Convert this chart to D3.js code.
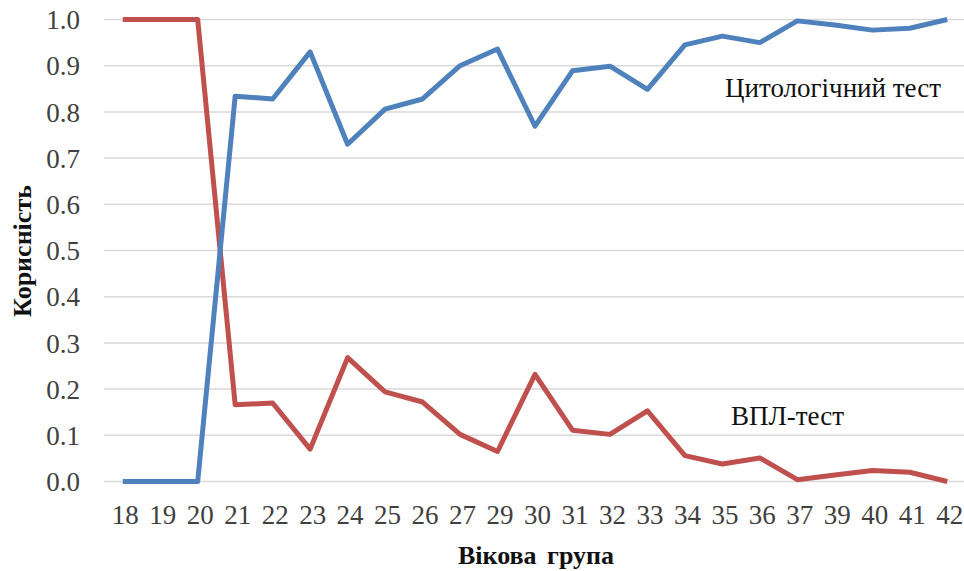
<!DOCTYPE html>
<html><head><meta charset="utf-8">
<script src="https://cdn.jsdelivr.net/npm/d3@7"></script>
</head><body>
<svg id="c" width="964" height="571"></svg>
<script>
const ages = ["18","19","20","21","22","23","24","25","26","27","29","30","31","32","33","34","35","36","37","39","40","41","42"];
const cytology = [0,0,0,0.834,0.828,0.930,0.730,0.806,0.828,0.900,0.936,0.769,0.889,0.899,0.849,0.945,0.964,0.950,0.997,0.988,0.977,0.981,1.0];
const hpv = [1,1,1,0.166,0.170,0.070,0.268,0.194,0.172,0.102,0.065,0.232,0.111,0.102,0.153,0.056,0.038,0.051,0.004,0.014,0.024,0.020,0.0];
const yTicks = [0,0.1,0.2,0.3,0.4,0.5,0.6,0.7,0.8,0.9,1.0];

d3.select("body").style("margin", "0").style("background", "#fff");
const svg = d3.select("#c").style("display", "block").attr("font-family", "Times New Roman");
const mLeft = 104, mRight = 966, mTop = 19.5, mBottom = 481.5;
const x = d3.scalePoint().domain(ages).range([mLeft, mRight]).padding(0.5);
const y = d3.scaleLinear().domain([0,1]).range([mBottom, mTop]);

// gridlines
svg.append("g").selectAll("line").data(yTicks).join("line")
  .attr("x1", mLeft).attr("x2", 964)
  .attr("y1", d => y(d)).attr("y2", d => y(d))
  .attr("stroke", "#d9d9d9").attr("stroke-width", 1.5);

// y axis labels
const yAxis = d3.axisLeft(y).tickValues(yTicks).tickFormat(d3.format(".1f")).tickSize(0).tickPadding(0);
const gy = svg.append("g").attr("transform", `translate(${mLeft - 24},0)`).call(yAxis);
gy.select(".domain").remove();
gy.attr("font-family", null).attr("font-size", 27);
gy.selectAll("text").attr("fill", "#404040").attr("dy", "0.34em");

// x axis labels
const xAxis = d3.axisBottom(x).tickSize(0).tickPadding(0);
const gx = svg.append("g").attr("transform", `translate(0,${mBottom + 23})`).call(xAxis);
gx.select(".domain").remove();
gx.attr("font-family", null).attr("font-size", 27);
gx.selectAll("text").attr("fill", "#404040").attr("dx", 2);

const line = d3.line().x((d, i) => x(ages[i])).y(d => y(d));
svg.append("path").datum(hpv).attr("d", line).attr("fill", "none")
  .attr("stroke", "#C0504D").attr("stroke-width", 5).attr("stroke-linejoin", "round");
svg.append("path").datum(cytology).attr("d", line).attr("fill", "none")
  .attr("stroke", "#4F81BD").attr("stroke-width", 5).attr("stroke-linejoin", "round");

// series labels
svg.append("text").attr("x", 725).attr("y", 97)
  .attr("font-size", 27).attr("fill", "#111").text("Цитологічний тест");
svg.append("text").attr("x", 731).attr("y", 425)
  .attr("font-size", 27).attr("fill", "#111").text("ВПЛ-тест");

// axis titles
svg.append("text").attr("transform", `translate(31,251) rotate(-90)`).attr("text-anchor", "middle")
  .attr("font-size", 26).attr("font-weight", "bold").attr("fill", "#111").text("Корисність");
svg.append("text").attr("x", 536).attr("y", 564).attr("text-anchor", "middle").attr("word-spacing", 4)
  .attr("font-size", 26).attr("font-weight", "bold").attr("fill", "#111").text("Вікова група");
</script>
</body></html>
